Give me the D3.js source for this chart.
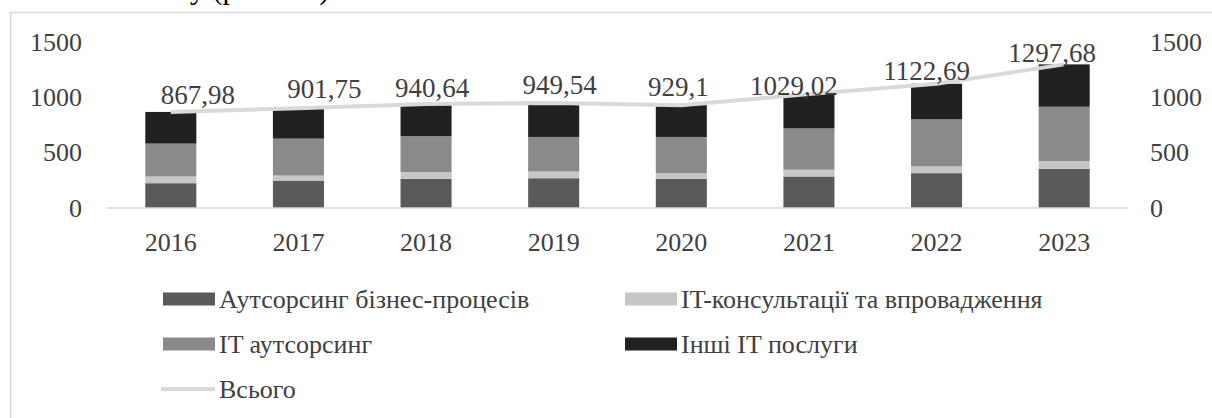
<!DOCTYPE html>
<html>
<head>
<meta charset="utf-8">
<script src="https://cdn.jsdelivr.net/npm/d3@7"></script>
<style>
    body { margin: 0; background: #fff; }
    svg text { font-family: "Liberation Serif", "DejaVu Serif", serif; fill: #404040; }
</style>
</head>
<body>
<div id="chart"></div>
<script>
// data
var years = ["2016", "2017", "2018", "2019", "2020", "2021", "2022", "2023"];
var bpo = [224, 248, 264, 269, 264, 285, 315, 355];          // Аутсорсинг бізнес-процесів
var consulting = [61, 45, 60, 61, 51, 61, 61, 69];          // IT-консультації та впровадження
var itOutsourcing = [297, 334, 325, 312, 327, 373, 425, 491]; // IT аутсорсинг
var otherIt = [285.98, 274.75, 291.64, 307.54, 287.1, 310.02, 321.69, 382.68]; // Інші IT послуги
var totals = [867.98, 901.75, 940.64, 949.54, 929.1, 1029.02, 1122.69, 1297.68]; // Всього
var totalLabels = ["867,98", "901,75", "940,64", "949,54", "929,1", "1029,02", "1122,69", "1297,68"];
var yTicks = [0, 500, 1000, 1500];

var seriesNames = ["Аутсорсинг бізнес-процесів", "IT-консультації та впровадження", "IT аутсорсинг", "Інші IT послуги"];
var seriesColors = ["#5a5a5a", "#c6c6c6", "#8a8a8a", "#212121"];
var totalName = "Всього";

var serif = '"Liberation Serif", "DejaVu Serif", serif';

function drawChart(id) {
    var width = 1212, height = 418;

    var svg = d3.select('#' + id)
        .append('svg')
        .attr('width', width)
        .attr('height', height);

    svg.append('rect')
        .attr('width', width).attr('height', height)
        .attr('fill', '#fff');

    // clipped caption line from the page above (only descenders show)
    svg.append('text')
        .attr('x', 190)
        .attr('y', -1)
        .style('font-size', '30px')
        .style('font-family', serif)
        .style('fill', '#000')
        .text('у (рис. 1.1)');

    // chart frame
    svg.append('rect')
        .attr('x', 10.5).attr('y', 12.5)
        .attr('width', 1400).attr('height', 600)
        .attr('fill', '#fff')
        .attr('stroke', '#d9d9d9')
        .attr('stroke-width', 1.5);

    var xScale = d3.scaleBand()
        .domain(years)
        .range([107, 1128])
        .paddingInner(0.6)
        .paddingOuter(0.3);

    var yScale = d3.scaleLinear().domain([0, 1500]).range([208, 42]);
    var y2Scale = d3.scaleLinear().domain([0, 1500]).range([208, 42]);

    // stacked data
    var rows = years.map(function (y, i) {
        return { year: y, s0: bpo[i], s1: consulting[i], s2: itOutsourcing[i], s3: otherIt[i] };
    });
    var stack = d3.stack().keys(["s0", "s1", "s2", "s3"]);
    var layers = stack(rows);

    svg.append('g').selectAll('g').data(layers)
        .enter().append('g')
        .attr('fill', function (d, i) { return seriesColors[i]; })
        .selectAll('rect').data(function (d) { return d; })
        .enter().append('rect')
        .attr('x', function (d) { return xScale(d.data.year); })
        .attr('width', xScale.bandwidth())
        .attr('y', function (d) { return yScale(d[1]); })
        .attr('height', function (d) { return yScale(d[0]) - yScale(d[1]); });

    // baseline
    svg.append('line')
        .attr('x1', 107).attr('x2', 1128)
        .attr('y1', yScale(0)).attr('y2', yScale(0))
        .attr('stroke', '#d9d9d9')
        .attr('stroke-width', 1.5);

    // total line
    var line = d3.line()
        .x(function (d, i) { return xScale(years[i]) + xScale.bandwidth() / 2; })
        .y(function (d) { return y2Scale(d); });

    svg.append('path')
        .datum(totals)
        .attr('d', line)
        .attr('fill', 'none')
        .attr('stroke', '#d9d9d9')
        .attr('stroke-width', 4);

    // data labels (hand placed like the source)
    var labelNudge = [[27, -8], [26, -10], [6, -7], [6, -8.5], [-3, -9.5], [-15, 1], [-10, -4], [-12, -2]];
    svg.append('g').selectAll('text').data(totals)
        .enter().append('text')
        .attr('x', function (d, i) { return xScale(years[i]) + xScale.bandwidth() / 2 + labelNudge[i][0]; })
        .attr('y', function (d, i) { return y2Scale(d) + labelNudge[i][1]; })
        .attr('text-anchor', 'middle')
        .style('font-size', '27px')
        .text(function (d, i) { return totalLabels[i]; });

    // axes
    var leftAxis = svg.append('g')
        .attr('transform', 'translate(107,0)')
        .call(d3.axisLeft(yScale).tickValues(yTicks).tickFormat(d3.format('d')).tickSize(0).tickPadding(25));

    var rightAxis = svg.append('g')
        .attr('transform', 'translate(1128,0)')
        .call(d3.axisRight(y2Scale).tickValues(yTicks).tickFormat(d3.format('d')).tickSize(0).tickPadding(22));

    var bottomAxis = svg.append('g')
        .attr('transform', 'translate(0,' + yScale(0) + ')')
        .call(d3.axisBottom(xScale).tickSize(0).tickPadding(24.5));

    [leftAxis, rightAxis, bottomAxis].forEach(function (a) {
        a.attr('font-family', null);
        a.select('.domain').remove();
        a.selectAll('text')
            .style('font-size', '26px')
            .style('font-family', serif)
            .attr('fill', '#404040');
    });

    // legend
    var legendItems = [
        { name: seriesNames[0], color: seriesColors[0], col: 0, row: 0 },
        { name: seriesNames[1], color: seriesColors[1], col: 1, row: 0 },
        { name: seriesNames[2], color: seriesColors[2], col: 0, row: 1 },
        { name: seriesNames[3], color: seriesColors[3], col: 1, row: 1 },
        { name: totalName, color: '#d9d9d9', col: 0, row: 2, isLine: true }
    ];
    var colX = [163, 625];
    var rowY = [299, 344, 389];

    var legend = svg.append('g').selectAll('g').data(legendItems)
        .enter().append('g')
        .attr('transform', function (d) { return 'translate(' + colX[d.col] + ',' + rowY[d.row] + ')'; });

    legend.each(function (d) {
        var g = d3.select(this);
        if (d.isLine) {
            g.append('line')
                .attr('x1', -2).attr('x2', 52)
                .attr('y1', 0).attr('y2', 0)
                .attr('stroke', d.color)
                .attr('stroke-width', 4);
        } else {
            g.append('rect')
                .attr('x', 0).attr('y', -6.5)
                .attr('width', 52).attr('height', 13)
                .attr('fill', d.color);
        }
        g.append('text')
            .attr('x', 56)
            .attr('y', 0)
            .attr('dy', '0.35em')
            .style('font-size', '26px')
            .style('font-family', serif)
            .text(d.name);
    });
}

drawChart('chart');
</script>
</body>
</html>
